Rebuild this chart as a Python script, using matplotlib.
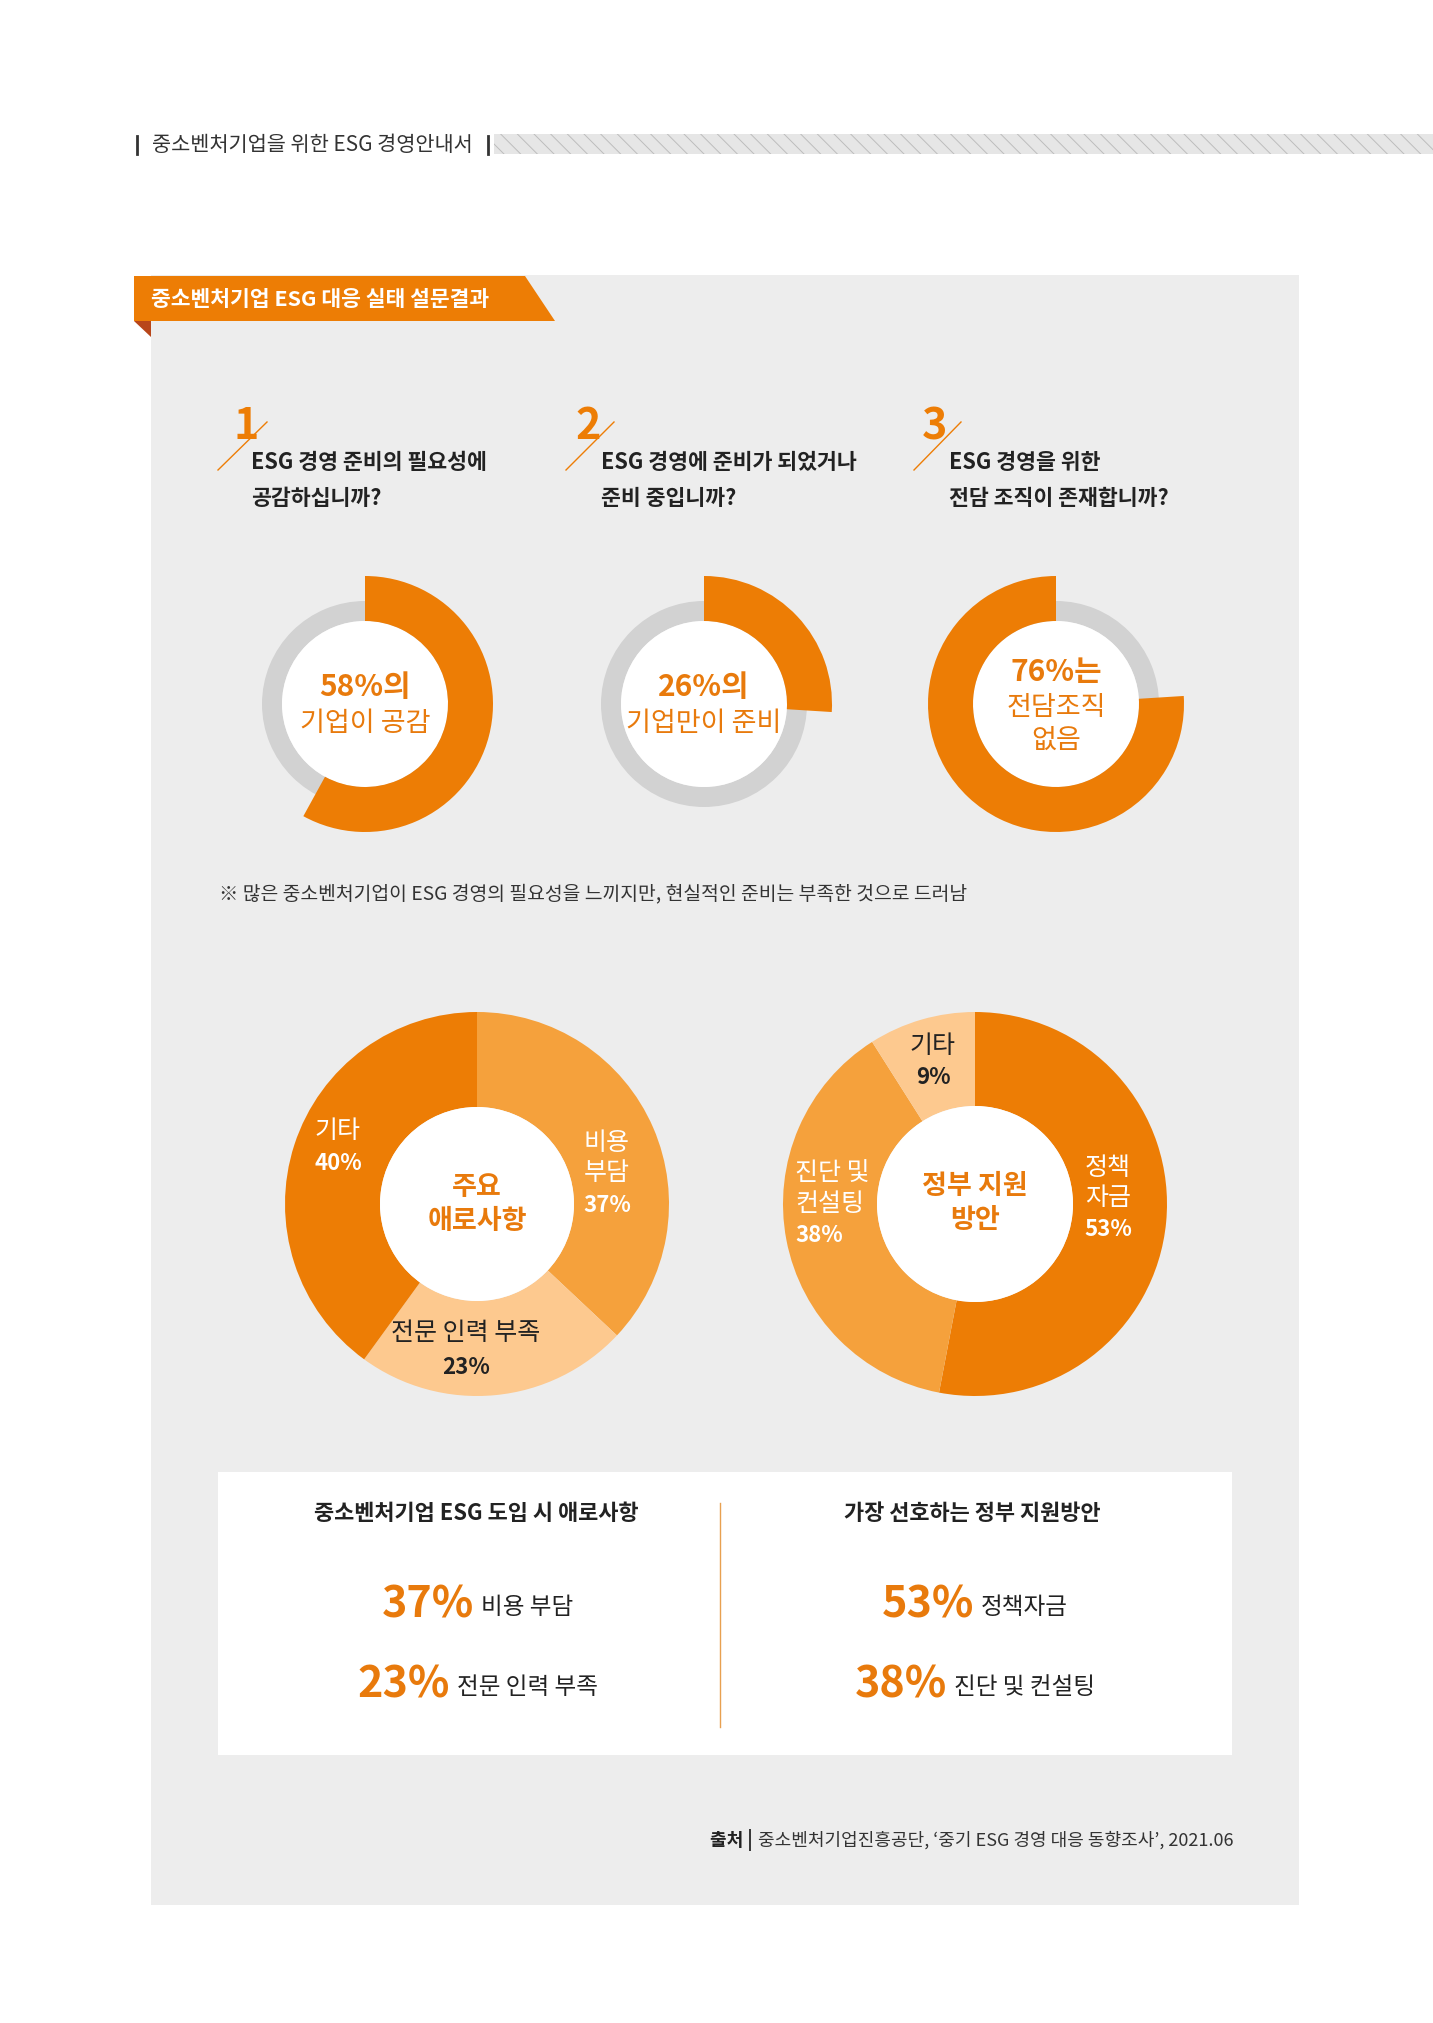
import matplotlib
matplotlib.use('Agg')
import matplotlib.pyplot as plt
from matplotlib.patches import Rectangle, Polygon, Circle

plt.rcParams['font.family'] = ['Noto Sans CJK KR', 'DejaVu Sans']
plt.rcParams['hatch.linewidth'] = 0.7

W, H = 1433, 2023

# ---- data ----
header = '중소벤처기업을 위한 ESG 경영안내서'
section_title = '중소벤처기업 ESG 대응 실태 설문결과'
q_numbers = ['1', '2', '3']
q_lines = [['ESG 경영 준비의 필요성에', '공감하십니까?'],
           ['ESG 경영에 준비가 되었거나', '준비 중입니까?'],
           ['ESG 경영을 위한', '전담 조직이 존재합니까?']]
ring_values = [58, 26, 76]
ring_clockwise = [True, True, False]
ring_texts = [['58%의', '기업이 공감'], ['26%의', '기업만이 준비'], ['76%는', '전담조직', '없음']]
note = '※ 많은 중소벤처기업이 ESG 경영의 필요성을 느끼지만, 현실적인 준비는 부족한 것으로 드러남'

barrier_labels = ['비용\n부담', '전문 인력 부족', '기타']
barrier_values = [37, 23, 40]
barrier_title = '주요\n애로사항'
support_labels = ['정책\n자금', '진단 및\n컨설팅', '기타']
support_values = [53, 38, 9]
support_title = '정부 지원\n방안'

box_titles = ['중소벤처기업 ESG 도입 시 애로사항', '가장 선호하는 정부 지원방안']
box_left = [('37%', '비용 부담'), ('23%', '전문 인력 부족')]
box_right = [('53%', '정책자금'), ('38%', '진단 및 컨설팅')]
source = "중소벤처기업진흥공단, ‘중기 ESG 경영 대응 동향조사’, 2021.06"

ORANGE = '#ED7D05'
MID = '#F5A13C'
PALE = '#FDC98F'
TXT_OR = '#E87A0C'
GRAY = '#D2D2D2'
PANEL = '#EDEDED'
DARK = '#222222'

fig = plt.figure(figsize=(W / 100, H / 100), dpi=100)
ax = fig.add_axes([0, 0, 1, 1])


def Y(y):
    return H - y


def txt(x, y, s, size, color=DARK, weight='normal', ha='center', va='center', **kw):
    return ax.text(x, Y(y), s, fontsize=size, color=color, fontweight=weight,
                   ha=ha, va=va, **kw)


# header line
ax.plot([137, 137], [Y(136), Y(154)], color='#333333', lw=2)
txt(152, 145, header, 15, color='#333333', ha='left')
ax.plot([488, 488], [Y(136), Y(154)], color='#333333', lw=2)
ax.add_patch(Rectangle((494, Y(154)), W - 494, 20, facecolor='#e6e6e6',
                       edgecolor='#bdbdbd', hatch='\\\\', lw=0))

# gray panel
ax.add_patch(Rectangle((151, Y(1905)), 1299 - 151, 1905 - 275, facecolor=PANEL, lw=0))

# orange tab
ax.add_patch(Polygon([(134, Y(276)), (525, Y(276)), (555, Y(321)), (134, Y(321))],
                     closed=True, facecolor=ORANGE, lw=0))
ax.add_patch(Polygon([(134, Y(321)), (151, Y(321)), (151, Y(337))],
                     closed=True, facecolor='#B8461A', lw=0))
txt(151, 299, section_title, 15.5, color='white', weight='bold', ha='left')

# questions
num_x = [246, 588, 935]
line_x = [(218, 267), (566, 614), (914, 961)]
text_x = [251, 601, 949]
for i in range(3):
    txt(num_x[i], 426, q_numbers[i], 31, color=ORANGE, weight='bold')
    ax.plot(line_x[i], [Y(470), Y(422)], color=ORANGE, lw=1)
    txt(text_x[i], 462, q_lines[i][0], 15.6, weight='bold', ha='left')
    txt(text_x[i], 498, q_lines[i][1], 15.6, weight='bold', ha='left')

# rings
ring_cx = [365, 704, 1056]
ring_cy = 704
for i in range(3):
    cx = ring_cx[i]
    ax.pie([1], center=(cx, Y(ring_cy)), radius=103, colors=[GRAY],
           wedgeprops=dict(width=20, linewidth=0))
    ax.add_patch(Circle((cx, Y(ring_cy)), 83, facecolor='white', lw=0))
    ax.pie([ring_values[i], 100 - ring_values[i]], center=(cx, Y(ring_cy)), radius=128,
           colors=[ORANGE, 'none'], startangle=90, counterclock=not ring_clockwise[i],
           wedgeprops=dict(width=45, linewidth=0))
t_y = {2: [687, 723], 3: [672, 707, 740]}
for i in range(3):
    lines = ring_texts[i]
    ys = t_y[len(lines)]
    txt(ring_cx[i], ys[0], lines[0], 21.5, color=TXT_OR, weight='bold')
    for s, yy in zip(lines[1:], ys[1:]):
        txt(ring_cx[i], yy, s, 19.5, color=TXT_OR, weight='medium')

txt(219, 894, note, 13.9, color='#333333', ha='left')

# big donuts
d1 = (477, 1204)
d2 = (975, 1204)
ax.pie(barrier_values, center=(d1[0], Y(d1[1])), radius=192, startangle=90,
       counterclock=False, colors=[MID, PALE, ORANGE],
       wedgeprops=dict(width=95, linewidth=0))
ax.add_patch(Circle((d1[0], Y(d1[1])), 97, facecolor='white', lw=0))
ax.pie(support_values, center=(d2[0], Y(d2[1])), radius=192, startangle=90,
       counterclock=False, colors=[ORANGE, MID, PALE],
       wedgeprops=dict(width=94, linewidth=0))
ax.add_patch(Circle((d2[0], Y(d2[1])), 98, facecolor='white', lw=0))

# donut centre titles
txt(d1[0], 1204, barrier_title, 19.5, color=TXT_OR, weight='bold', linespacing=1.3)
txt(d2[0], 1203, support_title, 19.5, color=TXT_OR, weight='bold', linespacing=1.3)

# donut 1 labels
txt(607, 1158, barrier_labels[0], 18, color='white', linespacing=1.25)
txt(607, 1206, f'{barrier_values[0]}%', 16, color='white', weight='bold')
txt(466, 1333, barrier_labels[1], 18, color=DARK)
txt(466, 1367, f'{barrier_values[1]}%', 16, color=DARK, weight='bold')
txt(338, 1131, barrier_labels[2], 18, color='white')
txt(338, 1164, f'{barrier_values[2]}%', 16, color='white', weight='bold')

# donut 2 labels
txt(1108, 1183, support_labels[0], 18, color='white', linespacing=1.2)
txt(1108, 1229, f'{support_values[0]}%', 16, color='white', weight='bold')
txt(795, 1189, support_labels[1], 18, color='white', ha='left', linespacing=1.2)
txt(795, 1236, f'{support_values[1]}%', 16, color='white', weight='bold', ha='left')
txt(933, 1046, support_labels[2], 18, color=DARK)
txt(933, 1078, f'{support_values[2]}%', 16, color=DARK, weight='bold')

# bottom summary box
ax.add_patch(Rectangle((218, Y(1755)), 1232 - 218, 1755 - 1472, facecolor='white', lw=0))
ax.plot([720, 720], [Y(1503), Y(1727)], color='#E8A050', lw=1)
txt(476, 1513, box_titles[0], 15.8, weight='bold')
txt(972, 1513, box_titles[1], 15.8, weight='bold')
split_left = [474, 450]
split_right = [974, 947]
rows_y = [1617, 1697]
for (num, lab), sx, yy in zip(box_left, split_left, rows_y):
    txt(sx, yy, num, 31, color=TXT_OR, weight='bold', ha='right', va='baseline')
    txt(sx + 7, yy - 3, lab, 17, color=DARK, ha='left', va='baseline')
for (num, lab), sx, yy in zip(box_right, split_right, rows_y):
    txt(sx, yy, num, 31, color=TXT_OR, weight='bold', ha='right', va='baseline')
    txt(sx + 7, yy - 3, lab, 17, color=DARK, ha='left', va='baseline')

ax.set_xlim(0, W)
ax.set_ylim(0, H)
ax.set_aspect('equal')
ax.axis('off')

# source
src = txt(1234, 1840, source, 13, color='#333333', ha='right')
fig.canvas.draw()
x0 = ax.transData.inverted().transform(src.get_window_extent().get_points())[0][0]
txt(x0 - 6, 1840, '출처 |', 13, color='#222222', weight='bold', ha='right')

fig.savefig('out.png', dpi=100, facecolor='white')
